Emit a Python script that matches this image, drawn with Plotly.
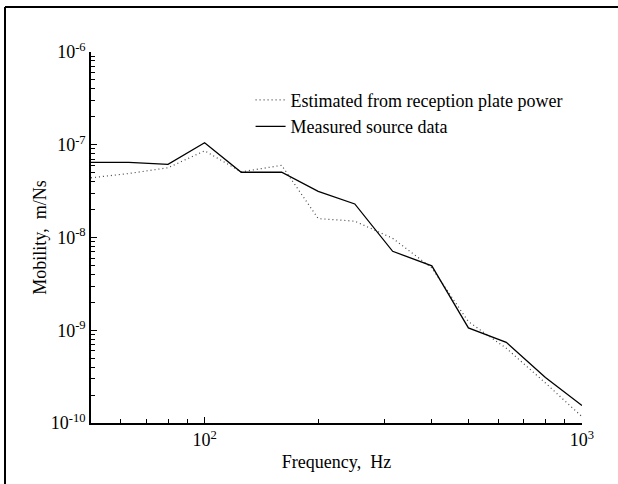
import plotly.graph_objects as go

# One-third octave band centre frequencies, Hz
freq_hz = [50, 63, 80, 100, 125, 160, 200, 250, 315, 400, 500, 630, 800, 1000]

# Mobility estimated from reception plate power, m/Ns
estimated = [4.4e-8, 4.9e-8, 5.65e-8, 8.6e-8, 5.1e-8, 6.0e-8, 1.6e-8, 1.5e-8,
             9.8e-9, 4.7e-9, 1.24e-9, 6.4e-10, 2.7e-10, 1.17e-10]

# Directly measured source mobility, m/Ns
measured = [6.45e-8, 6.45e-8, 6.15e-8, 1.05e-7, 5.05e-8, 5.05e-8, 3.15e-8, 2.3e-8,
            7.1e-9, 4.95e-9, 1.06e-9, 7.4e-10, 3.1e-10, 1.54e-10]

y_tick_vals = [1e-10, 1e-9, 1e-8, 1e-7, 1e-6]
y_tick_text = ["10<sup>-10</sup>", "10<sup>-9</sup>", "10<sup>-8</sup>",
               "10<sup>-7</sup>", "10<sup>-6</sup>"]
x_tick_vals = [100, 1000]
x_tick_text = ["10<sup>2</sup>", "10<sup>3</sup>"]

W, H = 618, 484
ML, MR, MT, MB = 91, 36, 52, 61
FONT = "Liberation Serif, Times New Roman, serif"

fig = go.Figure()
fig.add_trace(go.Scatter(
    x=freq_hz, y=estimated, mode="lines",
    name="Estimated from reception plate power",
    line=dict(color="#444444", width=1.2, dash="1px,3px"),
))
fig.add_trace(go.Scatter(
    x=freq_hz, y=measured, mode="lines",
    name="Measured source data",
    line=dict(color="black", width=1.3),
))

minor_x = [60, 70, 80, 90, 200, 300, 400, 500, 600, 700, 800, 900]
minor_y = [m * 10.0 ** e for e in range(-10, -6) for m in range(2, 10)]

fig.update_xaxes(
    type="log", range=[1.69897, 3.0],
    tickvals=x_tick_vals, ticktext=x_tick_text,
    ticks="inside", ticklen=6, tickwidth=1.2, tickcolor="black",
    minor=dict(tickvals=minor_x, ticks="inside", ticklen=4, tickwidth=1.2,
               tickcolor="black", showgrid=False),
    showline=True, linecolor="black", linewidth=1.5,
    showgrid=False, zeroline=False,
    tickfont=dict(family=FONT, size=18, color="black"),
    title=dict(text="Frequency,\u00a0 Hz", font=dict(family=FONT, size=18, color="black"),
               standoff=6),
)
fig.update_yaxes(
    type="log", range=[-10, -6],
    tickvals=y_tick_vals, ticktext=y_tick_text,
    ticks="inside", ticklen=6, tickwidth=1.2, tickcolor="black",
    minor=dict(tickvals=minor_y, ticks="inside", ticklen=4, tickwidth=1.2,
               tickcolor="black", showgrid=False),
    showline=True, linecolor="black", linewidth=1.5,
    showgrid=False, zeroline=False,
    tickfont=dict(family=FONT, size=18, color="black"),
    title=dict(text="Mobility,\u00a0 m/Ns", font=dict(family=FONT, size=18, color="black"),
               standoff=0),
)

# Outer frame: left and top edges of the figure box
pw, ph = W - ML - MR, H - MT - MB
fx0 = (5 - ML) / pw
fy1 = (H - MB - 7) / ph
fx1 = (W - ML) / pw
fy0 = (H - MB - H) / ph
fig.add_shape(type="line", xref="paper", yref="paper", x0=fx0, x1=fx0, y0=fy0, y1=fy1,
              line=dict(color="black", width=2))
fig.add_shape(type="line", xref="paper", yref="paper", x0=fx0, x1=fx1, y0=fy1, y1=fy1,
              line=dict(color="black", width=2))

fig.update_layout(
    width=W, height=H,
    margin=dict(l=ML, r=MR, t=MT, b=MB),
    paper_bgcolor="white", plot_bgcolor="white",
    font=dict(family=FONT, size=18, color="black"),
    showlegend=True,
    legend=dict(x=0.325, y=0.92, xanchor="left", yanchor="top",
                bgcolor="rgba(0,0,0,0)", borderwidth=0,
                font=dict(family=FONT, size=18, color="black"),
                tracegroupgap=0),
)

fig.write_html("out.html")
